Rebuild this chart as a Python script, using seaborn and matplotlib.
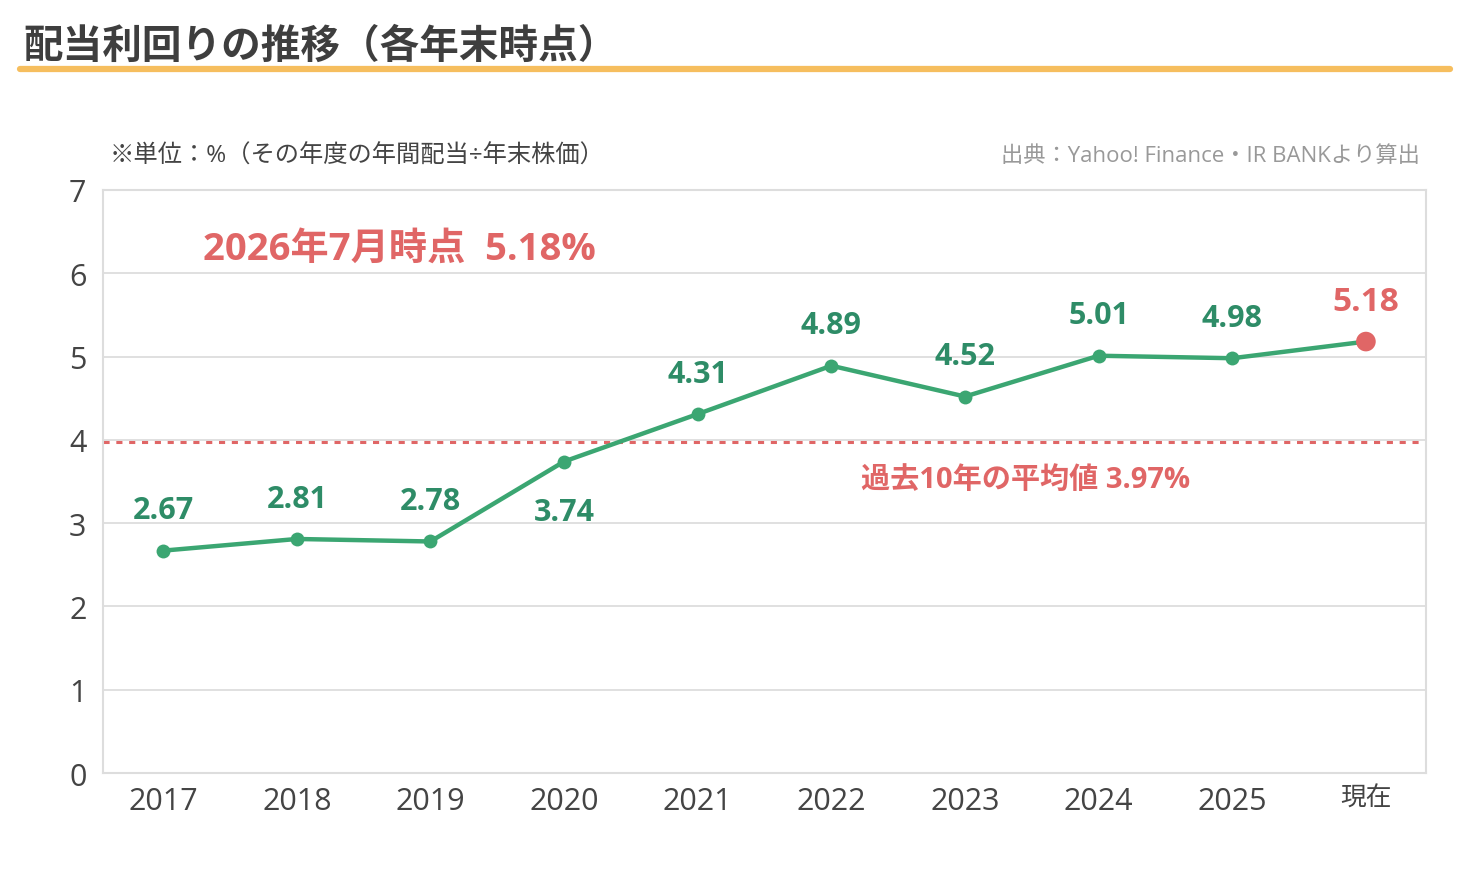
import matplotlib
matplotlib.use("Agg")
import matplotlib.pyplot as plt
import seaborn as sns
import pandas as pd
import numpy as np

categories = ["2017", "2018", "2019", "2020", "2021", "2022", "2023", "2024", "2025", "現在"]
yields = [2.67, 2.81, 2.78, 3.74, 4.31, 4.89, 4.52, 5.01, 4.98, 5.18]
label_below = [False, False, False, True, False, False, False, False, False, False]
average = 3.97
y_ticks = [0, 1, 2, 3, 4, 5, 6, 7]

title = "配当利回りの推移（各年末時点）"
unit_note = "※単位：%（その年度の年間配当÷年末株価）"
source_note = "出典：Yahoo! Finance・IR BANKより算出"
highlight = "2026年7月時点  5.18%"
avg_label = "過去10年の平均値 3.97%"

sns.set_theme(style="whitegrid")
FAM = ['Open Sans', 'Noto Sans CJK JP', 'DejaVu Sans']
plt.rcParams['font.family'] = FAM

GREEN = "#3BA672"
GREEN_TXT = "#2E8C67"
RED = "#E06666"
DARK = "#444444"
GRID = "#DDDDDD"

df = pd.DataFrame({"pos": np.arange(len(categories)), "yield": yields})

fig = plt.figure(figsize=(14.7, 8.7), dpi=100)
ax = fig.add_axes([0.0701, 0.1103, 0.9000, 0.6702])

sns.lineplot(data=df, x="pos", y="yield", ax=ax, color=GREEN, linewidth=3.2,
             marker="o", markersize=10, markeredgewidth=0, zorder=3)
# highlight latest point
last = df.iloc[[-1]]
sns.scatterplot(data=last, x="pos", y="yield", ax=ax, color=RED, s=200,
                edgecolor="none", zorder=4)

ax.axhline(average, color=RED, linestyle=(0, (2, 2.2)), linewidth=2.2, zorder=2)

ax.set_xlim(-0.45, 9.45)
ax.set_ylim(0, 7)
ax.set_yticks(y_ticks)
ax.set_xticks(df["pos"])
ax.set_xticklabels(categories)
ax.set_xlabel("")
ax.set_ylabel("")
ax.grid(axis="x", visible=False)
ax.grid(axis="y", color=GRID, linewidth=1.3)
for s in ax.spines.values():
    s.set_color(GRID)
    s.set_linewidth(1.5)
ax.tick_params(axis="both", colors=DARK, labelsize=22, length=5, width=1.2,
               labelcolor=DARK)
ax.tick_params(axis="y", pad=7)
ax.tick_params(axis="x", pad=4)
ax.tick_params(axis="x", color="#888888")
ax.tick_params(axis="y", color="#666666")
ax.get_xticklabels()[-1].set_fontsize(18.5)

# value labels
for i, (v, below) in enumerate(zip(yields, label_below)):
    if i == len(yields) - 1:
        ax.annotate(f"{v:.2f}", (i, v), xytext=(0, 28.5), textcoords="offset points",
                    ha="center", va="center", fontsize=24, fontweight="bold", color=RED)
    elif below:
        ax.annotate(f"{v:.2f}", (i, v), xytext=(0, -36), textcoords="offset points",
                    ha="center", va="center", fontsize=22, fontweight="bold", color=GREEN_TXT)
    else:
        ax.annotate(f"{v:.2f}", (i, v), xytext=(0, 29), textcoords="offset points",
                    ha="center", va="center", fontsize=22, fontweight="bold", color=GREEN_TXT)

ax.text(6.45, average - 0.45, avg_label, ha="center", va="center", fontsize=21,
        fontweight="bold", color=RED)
ax.text(0.3, 6.3, highlight, ha="left", va="center", fontsize=27.5, fontweight="bold", color=RED)

# header
fig.text(0.016, 0.946, title, ha="left", va="center", fontsize=28.5, fontweight="bold", color="#3E3E3E")
fig.add_artist(plt.Line2D([0.0136, 0.9864], [0.920, 0.920], color="#F6BE5E", linewidth=4.5,
                          transform=fig.transFigure))
fig.text(0.0748, 0.8195, unit_note, ha="left", va="center", fontsize=17.5, color=DARK)
fig.text(0.966, 0.8205, source_note, ha="right", va="center", fontsize=16, color="#999999")

fig.savefig("out.png", dpi=100, facecolor="white")
